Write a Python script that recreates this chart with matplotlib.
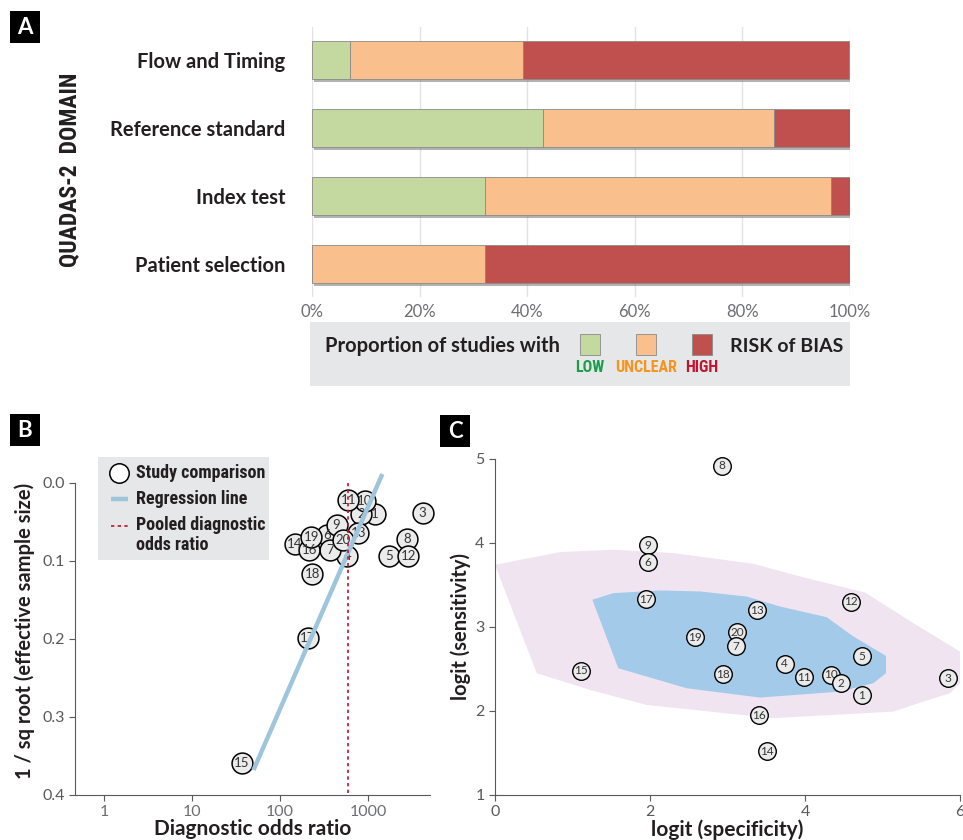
import matplotlib
matplotlib.use('Agg')
import matplotlib.pyplot as plt
import matplotlib.patheffects as pe
from matplotlib.patches import Rectangle, Polygon
from matplotlib.lines import Line2D

plt.rcParams['font.family'] = ['Lato', 'DejaVu Sans']
NARROW = ['Roboto Condensed', 'Open Sans Condensed', 'DejaVu Sans']

# ---- panel A: QUADAS-2 risk of bias (percent of 28 studies) ----
domains = ['Flow and Timing', 'Reference standard', 'Index test', 'Patient selection']
low = [7.1, 42.9, 32.1, 0.0]
unclear = [32.1, 42.9, 64.3, 32.1]
high = [60.7, 14.3, 3.6, 67.9]
pct_ticks = [0, 20, 40, 60, 80, 100]

# ---- panel B: Deeks funnel plot ----
study = list(range(1, 21))
dor = [1191, 839, 4169, 581, 1750, 344, 375, 2786, 439, 916,
       597, 2884, 776, 147, 37, 216, 207, 232, 228, 518]
inv_sqrt_ess = [0.040, 0.040, 0.039, 0.094, 0.094, 0.067, 0.086, 0.072, 0.054, 0.024,
                0.022, 0.094, 0.065, 0.079, 0.359, 0.086, 0.199, 0.117, 0.069, 0.073]
reg_dor = [50, 1456]
reg_y = [0.368, -0.011]
pooled_dor = 600

# ---- panel C: bivariate logit plot ----
logit_spec = [4.735, 4.469, 5.84, 3.738, 4.735, 1.978, 3.105, 2.925, 1.978, 4.331,
              3.983, 4.589, 3.385, 3.505, 1.105, 3.411, 1.953, 2.946, 2.585, 3.127]
logit_sens = [2.19, 2.33, 2.39, 2.565, 2.65, 3.77, 2.77, 4.92, 3.975, 2.43,
              2.40, 3.30, 3.20, 1.52, 2.48, 1.95, 3.33, 2.44, 2.88, 2.94]
pred_x = [0, 0.839, 1.527, 2.301, 3.333, 3.935, 4.774, 5.398, 6.0, 6.0, 5.871,
          5.527, 5.140, 3.591, 1.957, 1.226, 0.538]
pred_y = [3.741, 3.892, 3.920, 3.880, 3.753, 3.602, 3.411, 3.046, 2.708, 2.331, 2.212,
          2.112, 1.993, 1.914, 2.072, 2.251, 2.450]
conf_x = [1.256, 1.527, 2.129, 2.645, 3.247, 3.677, 4.280, 4.624, 5.045, 5.045,
          4.882, 4.452, 3.419, 2.473, 1.591]
conf_y = [3.324, 3.403, 3.435, 3.423, 3.363, 3.244, 3.117, 2.887, 2.656, 2.450,
          2.331, 2.231, 2.160, 2.271, 2.509]

GREEN, ORANGE, RED = '#c4d99f', '#f9bf8d', '#c0504d'
TXT = '#231f20'
GRAY = '#58595b'

W, H = 963, 840
fig = plt.figure(figsize=(W / 100, H / 100), dpi=100)


def px(l, t, r, b):
    return [l / W, 1 - b / H, (r - l) / W, (b - t) / H]


# ---------------- A ----------------
axA = fig.add_axes(px(312, 27, 850, 297))
ypos = [3, 2, 1, 0]
left2 = [a + b for a, b in zip(low, unclear)]
shadow = [pe.SimplePatchShadow(offset=(1.5, -2), shadow_rgbFace='#808080', alpha=0.6), pe.Normal()]
for vals, lefts, col in [(low, [0] * 4, GREEN), (unclear, low, ORANGE), (high, left2, RED)]:
    bars = axA.barh(ypos, vals, left=lefts, height=0.56, color=col,
                    edgecolor='#8a8a8a', linewidth=0.6, zorder=3)
    for b in bars:
        b.set_path_effects(shadow)
axA.set_xlim(0, 100)
axA.set_ylim(-0.485, 3.485)
axA.set_xticks(pct_ticks)
axA.set_xticklabels([f'{t}%' for t in pct_ticks], color='#6d6e71', fontsize=12)
axA.set_yticks(ypos)
axA.set_yticklabels(domains, fontsize=14.5, fontweight='bold', color=TXT)
axA.tick_params(axis='both', length=0)
axA.tick_params(axis='y', pad=19)
axA.tick_params(axis='x', pad=5)
axA.grid(axis='x', color='#e3e3e3', lw=1, zorder=0)
for s in axA.spines.values():
    s.set_visible(False)

# ---------------- B ----------------
axB = fig.add_axes(px(75, 467, 430, 795))
axB.set_xscale('log')
axB.set_xlim(0.468, 5070)
axB.set_ylim(0.4, -0.02)
axB.plot(reg_dor, reg_y, color='#9fc5dc', lw=3.2, solid_capstyle='butt', zorder=4, clip_on=False)
axB.plot([pooled_dor, pooled_dor], [0, 0.4], color='#c4122f', lw=1.2,
         linestyle=(0, (2, 2)), zorder=4)
axB.scatter(dor, inv_sqrt_ess, s=225, facecolor='#ebebeb', edgecolor='black',
            linewidth=1.1, zorder=3, clip_on=False)
for n, x, y in zip(study, dor, inv_sqrt_ess):
    axB.text(x, y, str(n), ha='center', va='center', fontsize=9.5, color='#333333', zorder=3.5)
axB.set_xticks([1, 10, 100, 1000])
axB.set_xticklabels(['1', '10', '100', '1000'])
axB.minorticks_off()
axB.set_yticks([0.0, 0.1, 0.2, 0.3, 0.4])
axB.set_yticklabels(['0.0', '0.1', '0.2', '0.3', '0.4'])
axB.tick_params(colors=GRAY, labelsize=11.5, length=4, width=0.8)
axB.tick_params(axis='x', labelcolor='#6d6e71')
axB.spines['left'].set_bounds(0, 0.4)
for s in ['top', 'right']:
    axB.spines[s].set_visible(False)
for s in ['left', 'bottom']:
    axB.spines[s].set_color(GRAY)
axB.set_xlabel('Diagnostic odds ratio', fontsize=15, fontweight='bold', color=TXT, labelpad=0)
axB.set_ylabel('1 / sq root (effective sample size)', fontsize=14.5, fontweight='bold',
               color=TXT, labelpad=5)

# ---------------- C ----------------
axC = fig.add_axes(px(495, 459, 960, 795))
axC.add_patch(Polygon(list(zip(pred_x, pred_y)), closed=True, facecolor='#f0e4f1',
                      edgecolor='none', zorder=1))
axC.add_patch(Polygon(list(zip(conf_x, conf_y)), closed=True, facecolor='#a3cbe9',
                      edgecolor='none', zorder=2))
order = list(range(len(study)))[::-1]
for i in order:
    axC.scatter(logit_spec[i], logit_sens[i], s=160, facecolor='#ebebeb',
                edgecolor='black', linewidth=1.0, zorder=3 + (20 - i) * 0.01, clip_on=False)
    axC.text(logit_spec[i], logit_sens[i], str(study[i]), ha='center', va='center',
             fontsize=8.5, color='#333333', zorder=3.005 + (20 - i) * 0.01)
axC.set_xlim(0, 6)
axC.set_ylim(1, 5)
axC.set_xticks([0, 2, 4, 6])
axC.set_yticks([1, 2, 3, 4, 5])
axC.tick_params(colors=GRAY, labelsize=11.5, length=4, width=0.8)
for s in ['top', 'right']:
    axC.spines[s].set_visible(False)
for s in ['left', 'bottom']:
    axC.spines[s].set_color(GRAY)
axC.set_xlabel('logit (specificity)', fontsize=15, fontweight='bold', color=TXT, labelpad=0)
axC.set_ylabel('logit (sensitivity)', fontsize=14.5, fontweight='bold', color=TXT, labelpad=3)

# ---------------- overlay: panel letters, legends ----------------
ov = fig.add_axes([0, 0, 1, 1], zorder=10)
ov.set_xlim(0, W)
ov.set_ylim(H, 0)
ov.axis('off')
ov.patch.set_alpha(0)

for letter, x0, y0 in [('A', 10, 11), ('B', 10, 414), ('C', 440, 415)]:
    ov.add_patch(Rectangle((x0, y0), 30, 32, facecolor='black', edgecolor='none'))
    ov.text(x0 + 15, y0 + 16.5, letter, color='white', fontsize=16, fontweight='bold',
            ha='center', va='center')

ov.text(70, 170, 'QUADAS-2  DOMAIN', rotation=90, ha='center', va='center',
        fontsize=17, fontweight='bold', fontstretch='condensed', color=TXT, family=NARROW)

# panel A legend
ov.add_patch(Rectangle((310, 322), 540, 64, facecolor='#e6e7e8', edgecolor='none'))
ov.text(325, 346, 'Proportion of studies with', fontsize=14.5, fontweight='bold',
        color=TXT, ha='left', va='center')
for cx, col, lab, lcol in [(590, GREEN, 'LOW', '#1a9e4a'), (646, ORANGE, 'UNCLEAR', '#f7941d'),
                           (702, RED, 'HIGH', '#c4122f')]:
    ov.add_patch(Rectangle((cx - 10, 334), 20, 21, facecolor=col, edgecolor='#8a8a8a', lw=0.6))
    ov.text(cx, 368, lab, fontsize=11.5, fontweight='bold', fontstretch='condensed', color=lcol,
            ha='center', va='center', family=NARROW)
ov.text(730, 346, 'RISK of BIAS', fontsize=14, fontweight='bold', color=TXT,
        ha='left', va='center')

# panel B legend
ov.add_patch(Rectangle((98, 457), 171, 103, facecolor='#e6e7e8', edgecolor='none'))
ov.add_line(Line2D([119], [473], marker='o', markersize=14, markerfacecolor='white',
                   markeredgecolor='black', markeredgewidth=1.1))
ov.add_line(Line2D([111, 128], [499, 499], color='#9fc5dc', lw=3.2, solid_capstyle='butt'))
ov.add_line(Line2D([111, 128], [526, 526], color='#c4122f', lw=1.2, linestyle=(0, (2, 2))))
for ty, lab in [(473, 'Study comparison'), (499, 'Regression line'),
                (525, 'Pooled diagnostic'), (545, 'odds ratio')]:
    ov.text(136, ty, lab, fontsize=13, fontweight='bold', fontstretch='condensed', color=TXT,
            ha='left', va='center', family=NARROW)

fig.savefig('out.png', dpi=100)
